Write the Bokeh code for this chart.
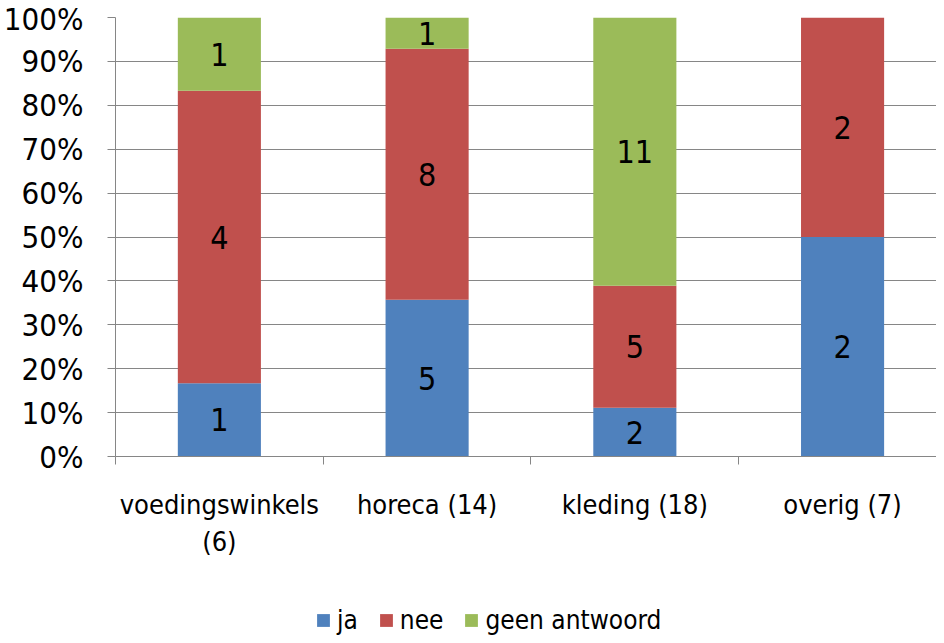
from bokeh.plotting import figure
from bokeh.layouts import column
from bokeh.models import ColumnDataSource, Range1d, FixedTicker, NumeralTickFormatter, Legend, LegendItem
from bokeh.embed import file_html
from bokeh.resources import INLINE
from bokeh.core.properties import value

categories = ["voedingswinkels\n(6)", "horeca (14)", "kleding (18)", "overig (7)"]
series = ["ja", "nee", "geen antwoord"]
ja = [1, 5, 2, 2]
nee = [4, 8, 5, 2]
geen = [1, 1, 11, 0]
colors = ["#4F81BD", "#C0504D", "#9BBB59"]

FONT = "'Liberation Sans Narrow', 'DejaVu Sans Condensed', Roboto, sans-serif"

xs = [i + 0.5 for i in range(len(categories))]
totals = [a + b + c for a, b, c in zip(ja, nee, geen)]
keys = ["ja", "nee", "geen"]
data = {"x": xs}
for k, vals in zip(keys, [ja, nee, geen]):
    data[k] = [v / t for v, t in zip(vals, totals)]
src = ColumnDataSource(data)

# label positions
lx, ly, lt = [], [], []
for i in range(len(categories)):
    base = 0.0
    for vals in [ja, nee, geen]:
        frac = vals[i] / totals[i]
        if vals[i] > 0:
            lx.append(xs[i])
            ly.append(base + frac / 2)
            lt.append(str(vals[i]))
        base += frac
lsrc = ColumnDataSource(dict(x=lx, y=ly, t=lt))

p = figure(width=936, height=597, output_backend="svg", toolbar_location=None,
           x_range=Range1d(0, 826 / 209), y_range=Range1d(0, 1))
p.min_border_left = 110
p.min_border_right = 0
p.min_border_top = 17
p.min_border_bottom = 141
p.outline_line_color = None
p.background_fill_color = "white"

rs = p.vbar_stack(keys, x="x", width=0.4, source=src, color=colors, line_color=None)

p.text(x="x", y="y", text="t", source=lsrc, text_align="center", text_baseline="middle",
       text_font=value(FONT), text_font_size="32px", text_color="black")

grey = "#868686"
p.xgrid.visible = False
p.ygrid.grid_line_color = grey
p.ygrid.grid_line_width = 1
p.ygrid.ticker = FixedTicker(ticks=[i / 10 for i in range(11)])

p.yaxis.ticker = FixedTicker(ticks=[i / 10 for i in range(11)])
p.yaxis.formatter = NumeralTickFormatter(format="0%")
p.yaxis.axis_line_color = grey
p.yaxis.major_tick_line_color = grey
p.yaxis.major_tick_out = 8
p.yaxis.major_tick_in = 0
p.yaxis.minor_tick_line_color = None
p.yaxis.major_label_text_font = FONT
p.yaxis.major_label_text_font_size = "31px"
p.yaxis.major_label_text_color = "black"
p.yaxis.major_label_standoff = 24

p.xaxis.ticker = FixedTicker(ticks=xs, minor_ticks=[0, 1, 2, 3])
p.xaxis.major_label_overrides = {x: c for x, c in zip(xs, categories)}
p.xaxis.axis_line_color = grey
p.xaxis.major_tick_line_color = None
p.xaxis.major_tick_out = 0
p.xaxis.major_tick_in = 0
p.xaxis.minor_tick_line_color = grey
p.xaxis.minor_tick_out = 8
p.xaxis.minor_tick_in = 0
p.xaxis.major_label_text_font = FONT
p.xaxis.major_label_text_font_size = "27px"
p.xaxis.major_label_text_color = "black"
p.xaxis.major_label_standoff = 24

# legend strip below the chart (its frame is aligned with the chart's frame)
pl = figure(width=936, height=38, output_backend="svg", toolbar_location=None,
            x_range=Range1d(0, 1), y_range=Range1d(0, 1), min_border=0)
pl.axis.visible = False
pl.grid.visible = False
pl.outline_line_color = None
lr = [pl.vbar(x=[-5], top=[0], width=0.1, color=c, line_color=None) for c in colors]

legend = Legend(items=[LegendItem(label=s, renderers=[r]) for s, r in zip(series, lr)],
                orientation="horizontal", location=(200, 0))
legend.glyph_width = 16
legend.glyph_height = 16
legend.label_standoff = 6
legend.spacing = 20
legend.padding = 0
legend.margin = 0
legend.border_line_color = None
legend.background_fill_alpha = 0
legend.label_text_font = FONT
legend.label_text_font_size = "26px"
legend.label_text_color = "black"
legend.label_height = 30
legend.label_text_line_height = 1.0
pl.add_layout(legend, "center")

layout = column(p, pl, spacing=0)
open("out.html", "w").write(file_html(layout, INLINE))
